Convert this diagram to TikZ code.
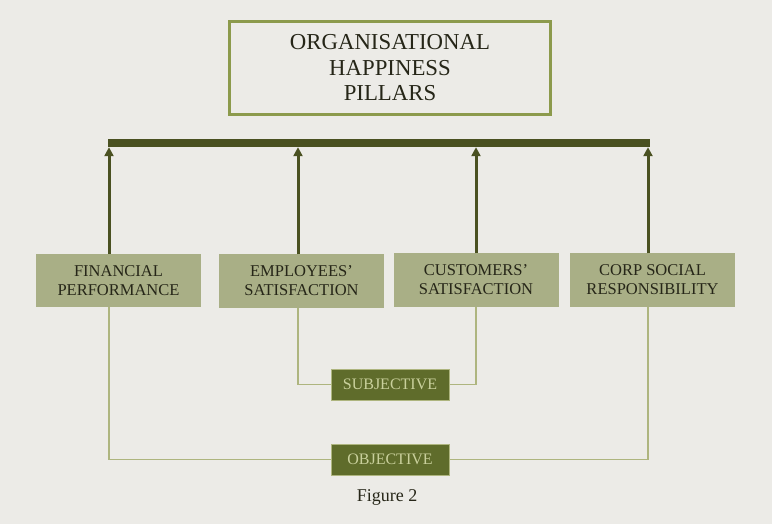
\documentclass[tikz,border=0pt]{standalone}
\usepackage{fontspec}
\setmainfont{Liberation Serif}
\usetikzlibrary{arrows.meta}
\definecolor{bg}{HTML}{ECEBE7}
\definecolor{topgreen}{HTML}{8C9A4C}
\definecolor{bardark}{HTML}{4A5121}
\definecolor{sage}{HTML}{A9AF86}
\definecolor{olive}{HTML}{5F6C2B}
\definecolor{lightline}{HTML}{AEB57F}
\definecolor{lighttext}{HTML}{C9D09C}
\definecolor{darktext}{HTML}{262618}
\tikzset{
  pillar/.style={fill=sage, text=darktext, minimum width=165pt, minimum height=53pt, inner sep=0pt, align=center, font=\fontsize{16.5}{19}\selectfont},
  tagbox/.style={fill=olive, draw=lightline, line width=1pt, text=lighttext, minimum width=118pt, minimum height=31pt, inner sep=0pt, font=\fontsize{16}{18}\selectfont},
  uparrow/.style={draw=bardark, line width=3pt, -{Triangle[length=9pt,width=9pt]}},
  thinlink/.style={draw=lightline, line width=1.5pt},
}
\begin{document}
\begin{tikzpicture}[x=1pt,y=-1pt]
\fill[bg] (0,0) rectangle (772,524);
\useasboundingbox (0,0) rectangle (772,524);
\node[draw=topgreen, line width=3pt, minimum width=321pt, minimum height=93pt, inner sep=0pt, align=center, text=darktext, font=\fontsize{22.8}{25.5}\selectfont] (title) at (390,68) {ORGANISATIONAL\\HAPPINESS\\PILLARS};
\node[fill=bardark, minimum width=542pt, minimum height=8pt, inner sep=0pt] (bar) at (379,143) {};
\node[pillar] (fin) at (118.5,280.5) {FINANCIAL\\PERFORMANCE};
\node[pillar] (emp) at (301.5,281) {EMPLOYEES'\\SATISFACTION};
\node[pillar] (cus) at (476,280) {CUSTOMERS'\\SATISFACTION};
\node[pillar] (csr) at (652.5,280) {CORP SOCIAL\\RESPONSIBILITY};
\node[tagbox] (subj) at (390,384.5) {SUBJECTIVE};
\node[tagbox] (obj) at (390,459.5) {OBJECTIVE};
\node[text=darktext, font=\fontsize{18}{20}\selectfont] (fig) at (387,497) {Figure 2};
\coordinate (x1) at (109,0);
\coordinate (x2) at (298,0);
\coordinate (x3) at (476,0);
\coordinate (x4) at (648,0);
\draw[uparrow] (fin.north -| x1) -- (bar.south -| x1);
\draw[uparrow] (emp.north -| x2) -- (bar.south -| x2);
\draw[uparrow] (cus.north -| x3) -- (bar.south -| x3);
\draw[uparrow] (csr.north -| x4) -- (bar.south -| x4);
\draw[thinlink] (emp.south -| x2) |- (subj.west);
\draw[thinlink] (cus.south -| x3) |- (subj.east);
\draw[thinlink] (fin.south -| x1) |- (obj.west);
\draw[thinlink] (csr.south -| x4) |- (obj.east);
\end{tikzpicture}
\end{document}
